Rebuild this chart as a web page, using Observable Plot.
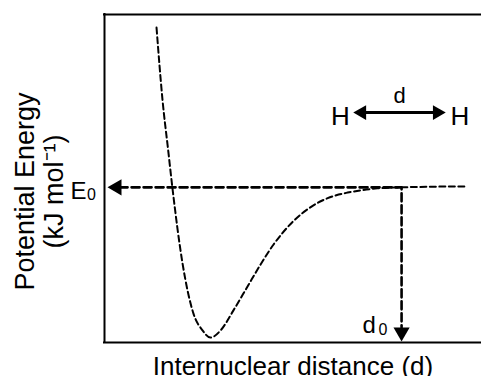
<!DOCTYPE html>
<html><head><meta charset="utf-8">
<script src="https://cdn.jsdelivr.net/npm/d3@7"></script>
<script src="https://cdn.jsdelivr.net/npm/@observablehq/plot@0.6"></script>
<style>html,body{margin:0;padding:0;background:#fff;overflow:hidden}</style>
</head><body><div id="chart"></div>
<script>
// Schematic potential-energy curve (arbitrary units: distance 0–10, energy 0–10)
const curveD = [1.38, 1.54, 1.69, 1.80, 2.07, 2.36, 2.60, 2.81, 3.08, 3.42, 3.79, 4.14, 4.48, 5.01, 5.46, 5.92, 6.21, 6.45, 7.24, 7.85, 9.63];
const curveE = [9.60, 7.38, 5.85, 4.73, 2.41, 0.88, 0.37, 0.15, 0.37, 0.98, 1.70, 2.38, 2.98, 3.70, 4.12, 4.40, 4.51, 4.57, 4.70, 4.73, 4.76];
const E0 = 4.73;          // energy level marked on the y axis
const d0 = 7.88;          // distance marked on the x axis
const bondEnds = [6.60, 9.05];   // H <-> H arrow tips
const bondLevel = 7.01;
const atomX = [6.26, 9.43];
const atomLabels = ["H", "H"];
const xTitle = "Internuclear distance (d)";
const yTitle = ["Potential Energy", "(kJ mol\u207B\u00B9)"];

const curve = curveD.map((d, i) => ({d, e: curveE[i]}));
const guide = [{d: 0.40, e: E0}, {d: d0, e: E0}, {d: d0, e: 0.46}];
const atoms = atomX.map((d, i) => ({d, e: bondLevel, t: atomLabels[i]}));
const font = "'Liberation Sans', Arial, sans-serif";
const mid = {textAnchor: "middle", lineAnchor: "middle"};

const chart = Plot.plot({
  width: 481, height: 376,
  marginLeft: 104, marginRight: 0, marginTop: 14, marginBottom: 34,
  style: {fontFamily: font, background: "#fff", color: "#000"},
  x: {domain: [0, 10], axis: null},
  y: {domain: [0, 10], axis: null},
  marks: [
    Plot.ruleY([0, 10], {strokeWidth: 2, strokeLinecap: "square"}),
    Plot.ruleX([0], {strokeWidth: 2, strokeLinecap: "square"}),
    Plot.line(curve, {x: "d", y: "e", curve: "monotone-x", strokeWidth: 2, strokeDasharray: "6,3.5"}),
    Plot.line(guide, {x: "d", y: "e", strokeWidth: 2.6, strokeDasharray: "8,4"}),
    Plot.dot([{d: 0.08, e: E0}], {x: "d", y: "e", symbol: "triangle", r: 6, rotate: -90, dx: 9.3, fill: "#000", stroke: "none"}),
    Plot.dot([{d: d0, e: 0.03}], {x: "d", y: "e", symbol: "triangle", r: 6, rotate: 180, dy: -9.3, fill: "#000", stroke: "none"}),
    Plot.ruleY([bondLevel], {x1: bondEnds[0] + 0.2, x2: bondEnds[1] - 0.2, strokeWidth: 3}),
    Plot.dot([{d: bondEnds[0], e: bondLevel}], {x: "d", y: "e", symbol: "triangle", r: 5.5, rotate: -90, dx: 8.5, fill: "#000", stroke: "none"}),
    Plot.dot([{d: bondEnds[1], e: bondLevel}], {x: "d", y: "e", symbol: "triangle", r: 5.5, rotate: 90, dx: -8.5, fill: "#000", stroke: "none"}),
    Plot.text(atoms, {x: "d", y: "e", text: "t", fontSize: 26, dy: 4, ...mid}),
    Plot.text(["d"], {x: (bondEnds[0] + bondEnds[1]) / 2, y: bondLevel, fontSize: 22, dy: -17, ...mid}),
    // E0 label
    Plot.text(["E"], {x: 0, y: E0, fontSize: 24, textAnchor: "start", lineAnchor: "middle", dx: -34, dy: 4.4}),
    Plot.text(["0"], {x: 0, y: E0, fontSize: 16, textAnchor: "start", lineAnchor: "middle", dx: -17.5, dy: 8}),
    // d0 label
    Plot.text(["d"], {x: d0, y: 0, fontSize: 24, textAnchor: "start", lineAnchor: "middle", dx: -39, dy: -17}),
    Plot.text(["0"], {x: d0, y: 0, fontSize: 16, textAnchor: "start", lineAnchor: "middle", dx: -23, dy: -13}),
    // axis titles
    Plot.text([xTitle], {frameAnchor: "bottom", fontSize: 26, dy: 23.7, ...mid}),
    Plot.text([yTitle[0]], {frameAnchor: "left", fontSize: 27, rotate: -90, dx: -79.6, dy: 13, ...mid}),
    Plot.text([yTitle[1]], {frameAnchor: "left", fontSize: 27, rotate: -90, dx: -50.6, dy: 13, ...mid})
  ]
});
document.getElementById("chart").appendChild(chart);
</script>
</body></html>
